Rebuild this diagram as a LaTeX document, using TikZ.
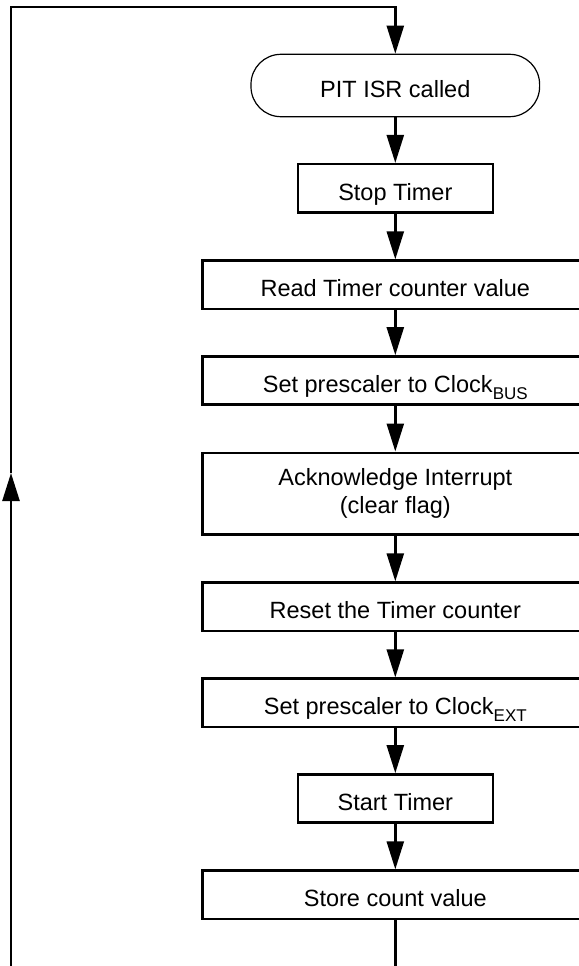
\documentclass[tikz,border=0pt]{standalone}
\usepackage{fontspec}
\setmainfont{Liberation Sans}
\usetikzlibrary{arrows.meta}
\newcommand{\sub}[1]{\raisebox{-7pt}{\fontsize{17}{17}\selectfont #1}}
\begin{document}
\begin{tikzpicture}[x=1pt,y=-1pt,
  every node/.style={font=\fontsize{23.5}{27.7}\selectfont, inner sep=0pt, text height=24pt, text depth=0pt},
  box/.style={draw, line width=2.4pt, minimum height=48.3pt},
  widebox/.style={box, minimum width=385.3pt},
  narrowbox/.style={box, minimum width=195pt},
  terminal/.style={draw, line width=1.2pt, rounded corners=30pt, minimum width=288.6pt, minimum height=62.4pt},
  conn/.style={line width=2.4pt},
  arr/.style={conn, -{Triangle[length=28pt,width=17pt]}}]
\useasboundingbox (0,0) rectangle (578,966);
\node[terminal]  (pit)   at (395.3,85.5)  {PIT ISR called};
\node[narrowbox] (stop)  at (395.3,188.3) {Stop Timer};
\node[widebox]   (read)  at (395.3,284.7) {Read Timer counter value};
\node[widebox]   (bus)   at (395.3,380.5) {Set prescaler to Clock\sub{BUS}};
\node[widebox, minimum height=81.6pt, align=center, text height={}, text depth={}] (ack) at (395.3,493.5) {Acknowledge Interrupt\\(clear flag)};
\node[widebox]   (reset) at (395.3,606.7) {Reset the Timer counter};
\node[widebox]   (ext)   at (395.3,702.8) {Set prescaler to Clock\sub{EXT}};
\node[narrowbox] (start) at (395.3,798.5) {Start Timer};
\node[widebox]   (store) at (395.3,894.7) {Store count value};
\coordinate (bl)  at (11,966);
\coordinate (tl)  at (11,7);
\coordinate (mid) at (11,473);
\coordinate (bot) at (395.3,966);
\draw[arr] (pit) -- (stop);
\draw[arr] (stop) -- (read);
\draw[arr] (read) -- (bus);
\draw[arr] (bus) -- (ack);
\draw[arr] (ack) -- (reset);
\draw[arr] (reset) -- (ext);
\draw[arr] (ext) -- (start);
\draw[arr] (start) -- (store);
\draw[conn] (store) -- (bot);
\draw[arr] (bl) -- (mid);
\draw[arr] (mid) -- (tl) -| (pit.north);
\end{tikzpicture}
\end{document}
